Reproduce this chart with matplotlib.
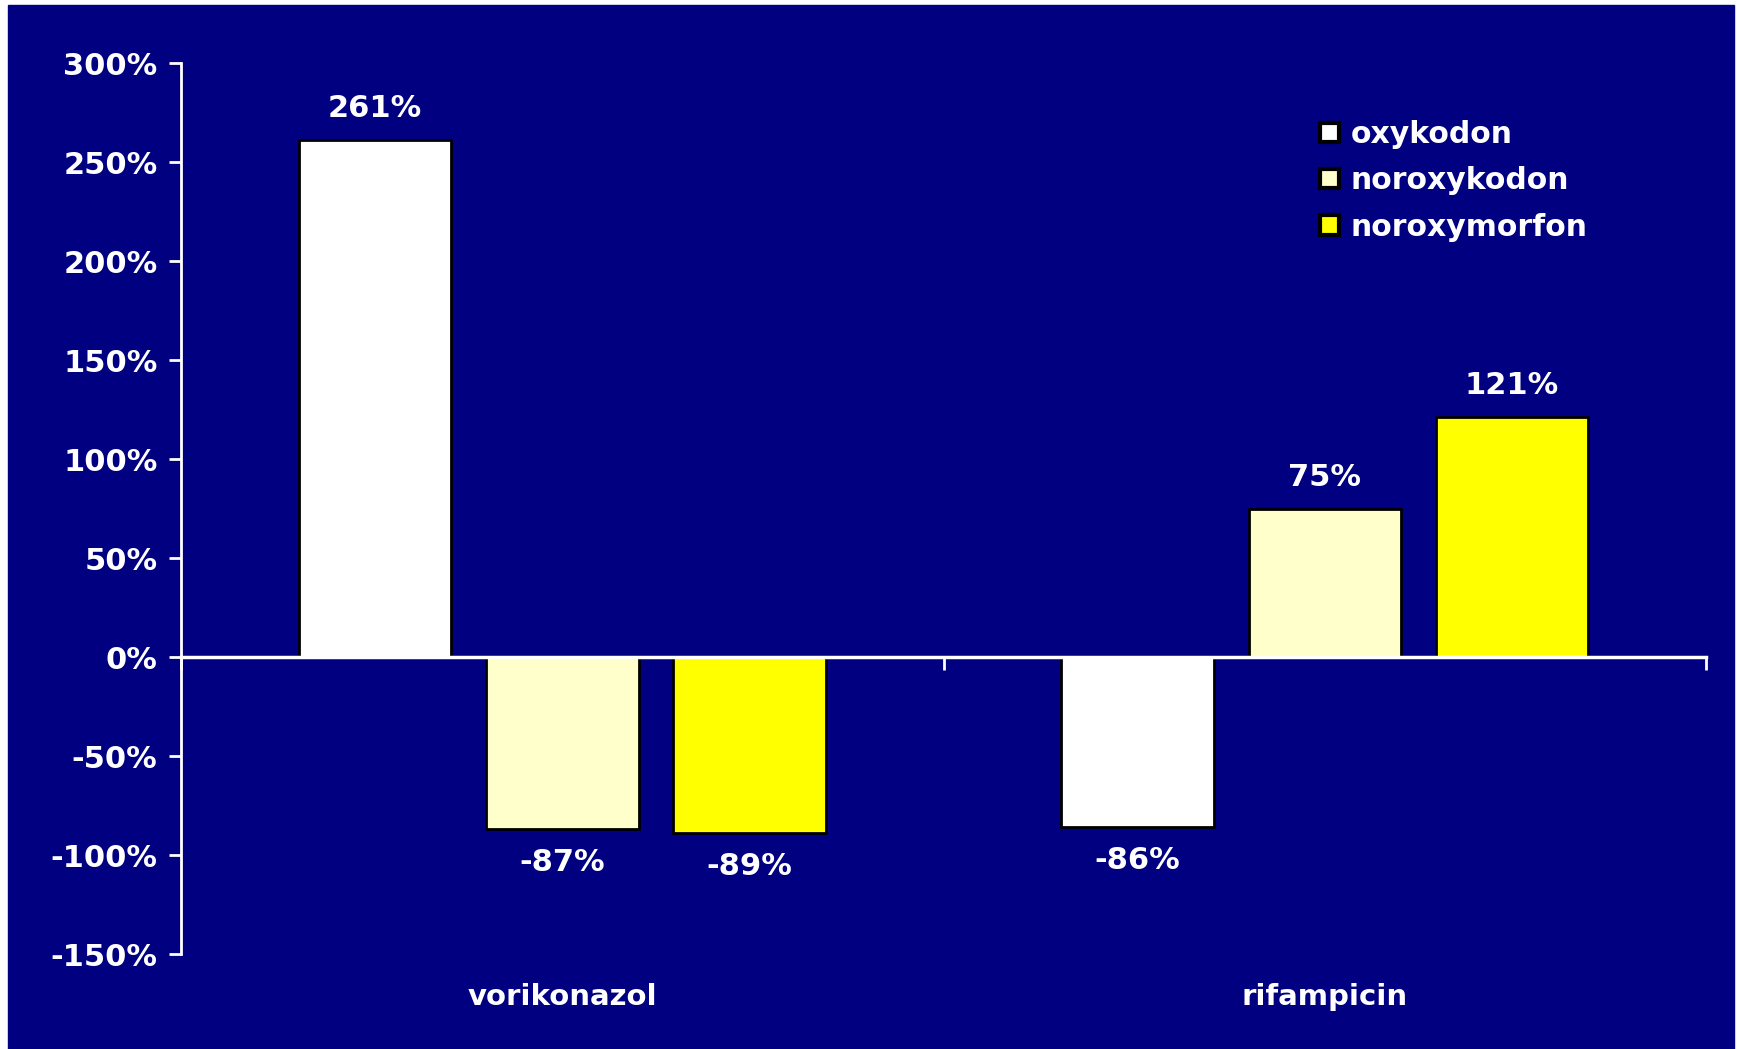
import numpy as np
import matplotlib.pyplot as plt
from matplotlib.transforms import blended_transform_factory

# relative change of AUC vs. control, per inducer / inhibitor
groups = ["vorikonazol", "rifampicin"]
series = ["oxykodon", "noroxykodon", "noroxymorfon"]
values = {
  "oxykodon": [261, -86],
  "noroxykodon": [-87, 75],
  "noroxymorfon": [-89, 121],
}
colors = {"oxykodon": "#FFFFFF", "noroxykodon": "#FFFFCC", "noroxymorfon": "#FFFF00"}
yticks = [-150, -100, -50, 0, 50, 100, 150, 200, 250, 300]

navy = "#000080"
plt.rcParams["font.family"] = "DejaVu Sans"
plt.rcParams["font.weight"] = "bold"


def main():
  fig = plt.figure(figsize=(17.37, 10.49), dpi=100)
  fig.patch.set_facecolor("white")
  # navy plate with a thin light margin on the left and top
  fig.patches.append(plt.Rectangle((8 / 1737, 0), 1726 / 1737, 1 - 5 / 1049,
                                   transform=fig.transFigure, color=navy, zorder=-10))
  ax = fig.add_axes([181 / 1737, 1 - 954 / 1049, (1706 - 181) / 1737, (954 - 63) / 1049])
  ax.set_facecolor(navy)
  ax.patch.set_alpha(0)

  x = np.arange(len(groups))
  width = 0.2
  step = 0.2457
  for i, s in enumerate(series):
    pos = x + (i - 1) * step
    ax.bar(pos, values[s], width, color=colors[s], edgecolor="black", linewidth=2,
           label=s, zorder=2)
    for px, v in zip(pos, values[s]):
      if v >= 0:
        ax.annotate(f"{v}%", (px, v), xytext=(0, 17), textcoords="offset pixels",
                    ha="center", va="bottom", color="white", fontsize=22, fontweight="bold")
      else:
        ax.annotate(f"{v}%", (px, v), xytext=(0, -19), textcoords="offset pixels",
                    ha="center", va="top", color="white", fontsize=22, fontweight="bold")

  ax.set_xlim(-0.5, 1.5)
  ax.set_ylim(-150, 300)
  ax.set_yticks(yticks)
  ax.set_yticklabels([f"{t}%" for t in yticks])
  ax.tick_params(axis="y", colors="white", labelsize=22, width=2, length=9, direction="out", pad=8)
  ax.set_xticks([-0.5, 0.5, 1.5])
  ax.set_xticklabels([])
  ax.tick_params(axis="x", colors="white", width=2, length=9, direction="out")

  for side in ["top", "right"]:
    ax.spines[side].set_visible(False)
  ax.spines["left"].set_color("white")
  ax.spines["left"].set_linewidth(2)
  ax.spines["bottom"].set_position(("data", 0))
  ax.spines["bottom"].set_color("white")
  ax.spines["bottom"].set_linewidth(2.5)
  ax.spines["bottom"].set_zorder(3)

  trans = blended_transform_factory(ax.transData, fig.transFigure)
  for xi, g in zip(x, groups):
    ax.text(xi, 1 - 997 / 1049, g, transform=trans, ha="center", va="center",
            color="white", fontsize=21, fontweight="bold")

  leg = fig.legend(loc="upper left", bbox_to_anchor=(1320 / 1737, 1 - 120 / 1049),
                   frameon=False, fontsize=21.5, handlelength=0.62, handleheight=0.62,
                   handletextpad=0.4, labelspacing=0.58, borderpad=0, borderaxespad=0)
  for t in leg.get_texts():
    t.set_color("white")
    t.set_fontweight("bold")
  for h in leg.legend_handles:
    h.set_linewidth(3)

  fig.savefig("out.png", dpi=100, facecolor=fig.get_facecolor())


if __name__ == "__main__":
  main()
